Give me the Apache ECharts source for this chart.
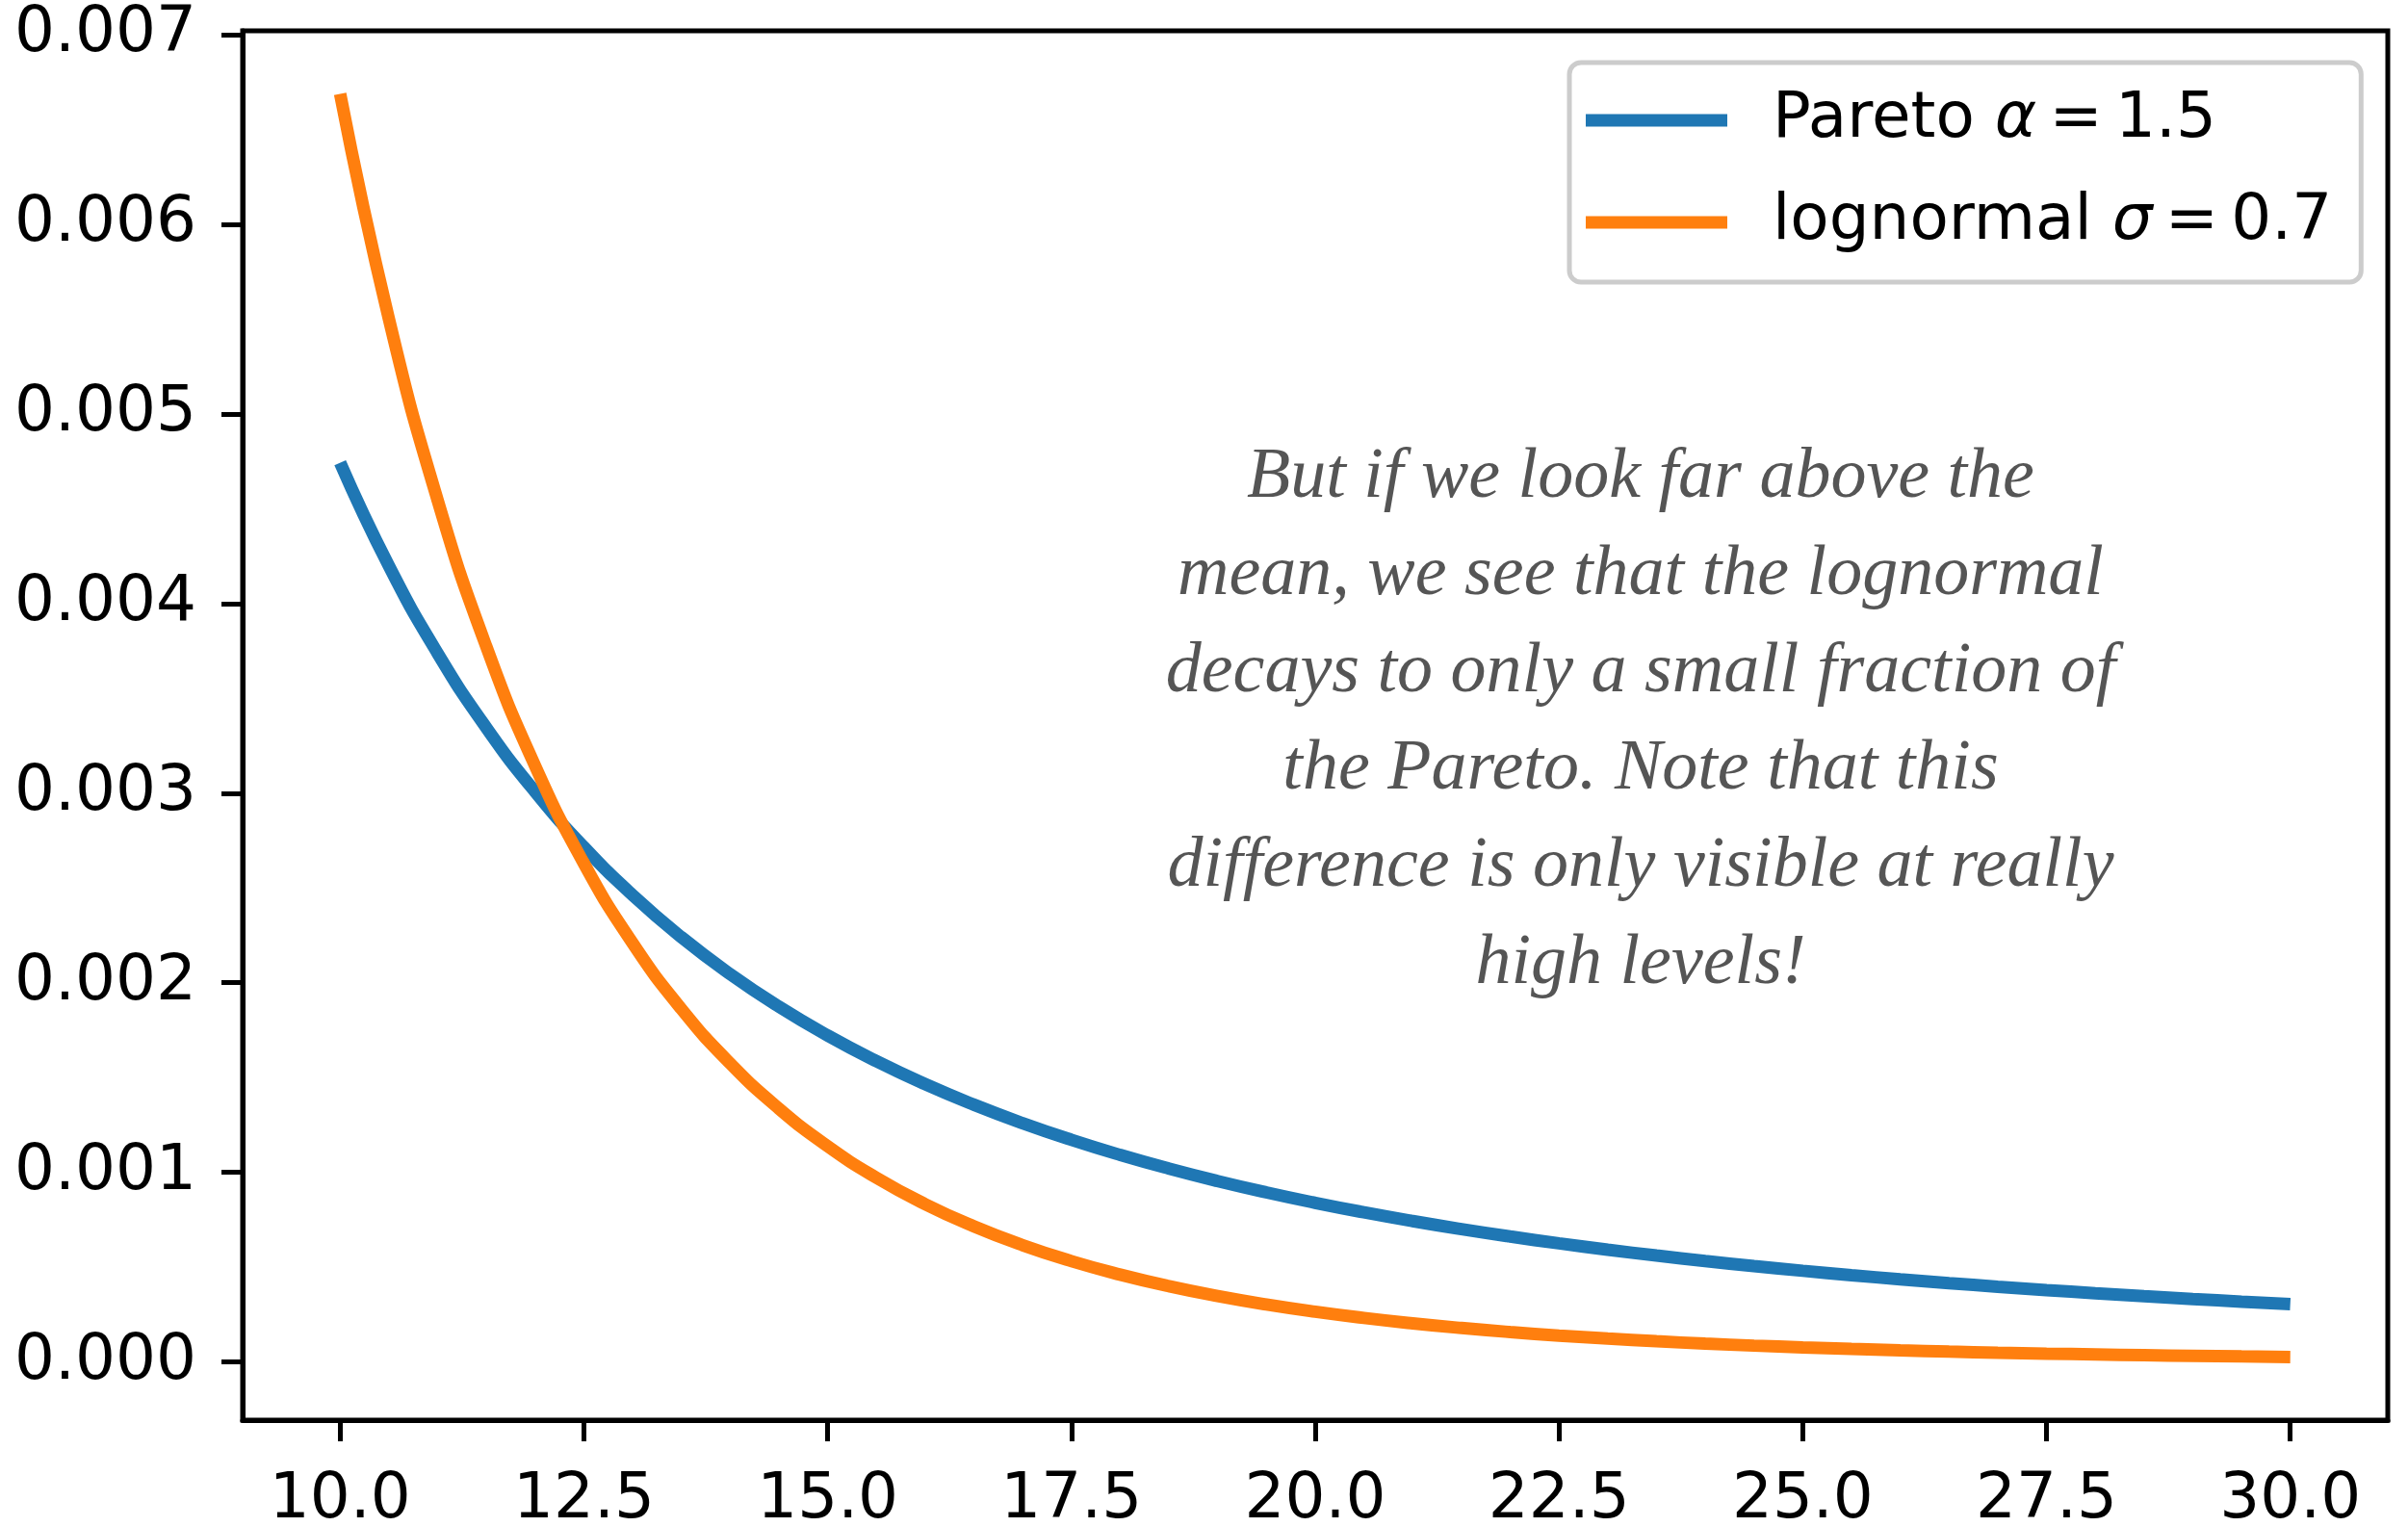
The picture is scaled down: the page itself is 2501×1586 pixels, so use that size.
<!DOCTYPE html>
<html>
<head>
<meta charset="utf-8">
<script src="https://cdn.jsdelivr.net/npm/echarts@6/dist/echarts.min.js"></script>
<style>html,body{margin:0;padding:0;background:#fff;}#c{width:2501px;height:1586px;}</style>
</head>
<body>
<div id="c"></div>
<script>
const xValues = [10, 10.5, 11, 11.5, 12, 12.5, 13, 13.5, 14, 14.5, 15, 15.5, 16, 16.5, 17, 17.5, 18, 18.5, 19, 19.5, 20, 20.5, 21, 21.5, 22, 22.5, 23, 23.5, 24, 24.5, 25, 25.5, 26, 26.5, 27, 27.5, 28, 28.5, 29, 29.5, 30];
const paretoValues = [0.0047434, 0.0041987, 0.0037378, 0.0033446, 0.0030070, 0.0027153, 0.0024617, 0.0022400, 0.0020454, 0.0018736, 0.0017213, 0.0015859, 0.0014648, 0.0013564, 0.0012588, 0.0011708, 0.0010912, 0.0010190, 0.00095325, 0.00089331, 0.00083853, 0.00078833, 0.00074224, 0.00069983, 0.00066075, 0.00062465, 0.00059125, 0.00056031, 0.00053157, 0.00050486, 0.00048000, 0.00045682, 0.00043517, 0.00041493, 0.00039599, 0.00037823, 0.00036157, 0.00034592, 0.00033120, 0.00031735, 0.00030429];
const lognormalValues = [0.0066890, 0.0055016, 0.0045454, 0.0037718, 0.0031430, 0.0026293, 0.0022080, 0.0018610, 0.0015739, 0.0013356, 0.0011369, 0.00097078, 0.00083133, 0.00071422, 0.00061478, 0.00053077, 0.00045973, 0.00039854, 0.00034657, 0.00030203, 0.00026381, 0.00023089, 0.00020249, 0.00017793, 0.00015664, 0.00013815, 0.00012206, 0.00010798, 0.000095767, 0.000085035, 0.000075622, 0.000067354, 0.000060076, 0.000053664, 0.000048002, 0.000042993, 0.000038561, 0.000034629, 0.000031137, 0.000028030, 0.000025265];
const xTicks = [10, 12.5, 15, 17.5, 20, 22.5, 25, 27.5, 30];
const yTicks = [0, 0.001, 0.002, 0.003, 0.004, 0.005, 0.006, 0.007];
const seriesNames = ['Pareto α = 1.5', 'lognormal σ = 0.7'];
const legendRich = {
  'Pareto α = 1.5': 'Pareto {i|α}\u2009=\u20091.5',
  'lognormal σ = 0.7': 'lognormal {i|σ}\u2009=\u20090.7'
};
const annotation = 'But if we look far above the\nmean, we see that the lognormal\ndecays to only a small fraction of\nthe Pareto. Note that this\ndifference is only visible at really\nhigh levels!';

const chart = echarts.init(document.getElementById('c'), null, {renderer: 'canvas'});
const axisFont = {fontFamily: 'DejaVu Sans', fontSize: 66, color: '#000'};
const toPairs = (xs, ys) => xs.map((x, i) => [x, ys[i]]);

chart.setOption({
  animation: false,
  backgroundColor: '#fff',
  grid: {
    left: 252, right: 21, top: 32, bottom: 111,
    containLabel: false, outerBoundsMode: 'none',
    show: true, borderColor: '#000', borderWidth: 5, backgroundColor: 'transparent'
  },
  xAxis: {
    type: 'value', min: 9, max: 31,
    splitLine: {show: false},
    axisLine: {show: true, onZero: false, lineStyle: {color: '#000', width: 5}},
    axisTick: {show: true, length: 22, lineStyle: {color: '#000', width: 5}, customValues: xTicks},
    axisLabel: Object.assign({margin: 51, customValues: xTicks, formatter: v => Number(v).toFixed(1)}, axisFont)
  },
  yAxis: {
    type: 'value', min: -0.000308, max: 0.007022,
    splitLine: {show: false},
    axisLine: {show: true, onZero: false, lineStyle: {color: '#000', width: 5}},
    axisTick: {show: true, length: 22, lineStyle: {color: '#000', width: 5}, customValues: yTicks},
    axisLabel: Object.assign({margin: 48, customValues: yTicks, formatter: v => Number(v).toFixed(3)}, axisFont)
  },
  legend: {
    orient: 'vertical',
    left: 1630, top: 65,
    data: seriesNames,
    icon: 'rect',
    itemWidth: 147, itemHeight: 13,
    itemGap: 40,
    padding: [27, 30, 29, 17],
    backgroundColor: 'rgba(255,255,255,0.8)',
    borderColor: '#cccccc', borderWidth: 5, borderRadius: 12,
    formatter: name => legendRich[name],
    textStyle: {
      fontFamily: 'DejaVu Sans', fontSize: 66, color: '#000', padding: [0, 0, 0, 42],
      rich: {i: {fontFamily: 'DejaVu Sans', fontSize: 66, fontStyle: 'italic', color: '#000'}}
    }
  },
  graphic: [{
    type: 'text',
    x: 1704, y: 749,
    style: {
      text: annotation,
      fontFamily: 'Liberation Serif', fontStyle: 'italic', fontSize: 74,
      lineHeight: 101, fill: '#555555',
      align: 'center', verticalAlign: 'middle'
    }
  }],
  series: [
    {
      name: seriesNames[0], type: 'line', data: toPairs(xValues, paretoValues),
      showSymbol: false, smooth: true, color: '#1f77b4',
      lineStyle: {width: 13, color: '#1f77b4'}
    },
    {
      name: seriesNames[1], type: 'line', data: toPairs(xValues, lognormalValues),
      showSymbol: false, smooth: true, color: '#ff7f0e',
      lineStyle: {width: 13, color: '#ff7f0e'}
    }
  ]
});
</script>
</body>
</html>
